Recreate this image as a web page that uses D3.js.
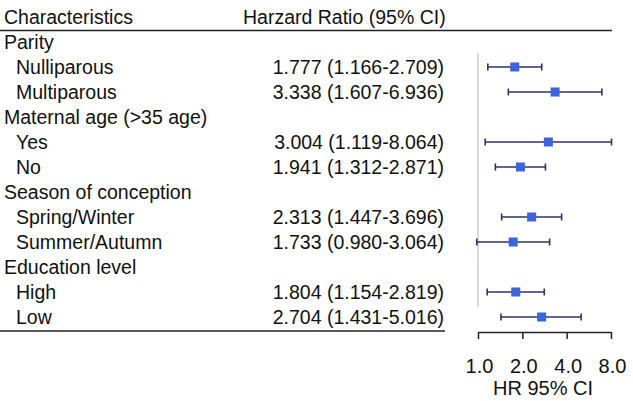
<!DOCTYPE html>
<html>
<head>
<meta charset="utf-8">
<script src="https://cdn.jsdelivr.net/npm/d3@7"></script>
<style>
  html, body { margin: 0; padding: 0; background: #fff; }
  svg { display: block; }
  text { font-family: "Liberation Sans", Arial, sans-serif; fill: #111; }
</style>
</head>
<body>
<svg id="chart" width="633" height="401"></svg>
<script>
// ---- data ----
const groups = ["Parity", "Maternal age (>35 age)", "Season of conception", "Education level"];
const subgroups = ["Nulliparous", "Multiparous", "Yes", "No", "Spring/Winter", "Summer/Autumn", "High", "Low"];
const groupIndex = [0, 0, 1, 1, 2, 2, 3, 3];
const hr    = [1.777, 3.338, 3.004, 1.941, 2.313, 1.733, 1.804, 2.704];
const lower = [1.166, 1.607, 1.119, 1.312, 1.447, 0.980, 1.154, 1.431];
const upper = [2.709, 6.936, 8.064, 2.871, 3.696, 3.064, 2.819, 5.016];
const tickValues = [1, 2, 4, 8];
const tickLabels = ["1.0", "2.0", "4.0", "8.0"];
const headerLeft = "Characteristics";
const headerMid = "Harzard Ratio (95% CI)";
const axisTitle = "HR 95% CI";

// ---- build rows ----
const rows = [];
groups.forEach((g, gi) => {
  rows.push({ type: "group", label: g });
  subgroups.forEach((s, si) => {
    if (groupIndex[si] === gi) rows.push({ type: "sub", label: s, i: si });
  });
});

const svg = d3.select("#chart");
const fs = 19.5;

const y = d3.scaleLinear().domain([0, rows.length]).range([17, 17 + 25 * rows.length]);
const x = d3.scaleLog().base(2).domain([1, 8]).range([478, 611]);

// header
svg.append("text").attr("x", 4).attr("y", y(0)).attr("dy", "0.36em")
  .style("font-size", fs + "px").text(headerLeft);
svg.append("text").attr("x", 243).attr("y", y(0)).attr("dy", "0.36em")
  .style("font-size", fs + "px").text(headerMid);
svg.append("line").attr("x1", 0).attr("x2", 612).attr("y1", 30.5).attr("y2", 30.5)
  .attr("stroke", "#222").attr("stroke-width", 1.5);

// reference line at HR = 1
svg.append("line").attr("x1", x(1)).attr("x2", x(1))
  .attr("y1", 53).attr("y2", y(rows.length) - 10)
  .attr("stroke", "#cdcdcd").attr("stroke-width", 1.5);

// rows
rows.forEach((r, ri) => {
  const yy = y(ri + 1);
  if (r.type === "group") {
    svg.append("text").attr("x", 4).attr("y", yy).attr("dy", "0.36em")
      .style("font-size", fs + "px").text(r.label);
  } else {
    const i = r.i;
    svg.append("text").attr("x", 16).attr("y", yy).attr("dy", "0.36em")
      .style("font-size", fs + "px").text(r.label);
    svg.append("text").attr("x", 444).attr("y", yy).attr("dy", "0.36em")
      .attr("text-anchor", "end")
      .style("font-size", fs + "px")
      .text(`${hr[i].toFixed(3)} (${lower[i].toFixed(3)}-${upper[i].toFixed(3)})`);
    const col = "#2b3366";
    svg.append("line").attr("x1", x(lower[i])).attr("x2", x(upper[i]))
      .attr("y1", yy).attr("y2", yy).attr("stroke", col).attr("stroke-width", 1.6);
    [lower[i], upper[i]].forEach(v => {
      svg.append("line").attr("x1", x(v)).attr("x2", x(v))
        .attr("y1", yy - 3.5).attr("y2", yy + 3.5).attr("stroke", col).attr("stroke-width", 1.6);
    });
    svg.append("rect").attr("x", x(hr[i]) - 4.5).attr("y", yy - 4.5)
      .attr("width", 9).attr("height", 9).attr("fill", "#3d64dc");
  }
});

// bottom line
svg.append("line").attr("x1", 0).attr("x2", 445).attr("y1", 331).attr("y2", 331)
  .attr("stroke", "#222").attr("stroke-width", 1.5);

// axis
const axis = d3.axisBottom(x).tickValues(tickValues)
  .tickFormat((d, i) => tickLabels[i]).tickSize(7).tickPadding(20).tickSizeOuter(0);
const ag = svg.append("g").attr("transform", "translate(0,332)").call(axis);
ag.select(".domain").attr("stroke", "#222").attr("stroke-width", 1.5);
ag.selectAll(".tick line").attr("stroke", "#222").attr("stroke-width", 1.5);
ag.selectAll(".tick text")
  .style("font-family", '"Liberation Sans", Arial, sans-serif')
  .style("font-size", "20px").attr("fill", "#111").attr("dx", "1");

svg.append("text").attr("x", 543).attr("y", 395).attr("text-anchor", "middle")
  .style("font-size", "20px").text(axisTitle);
</script>
</body>
</html>
